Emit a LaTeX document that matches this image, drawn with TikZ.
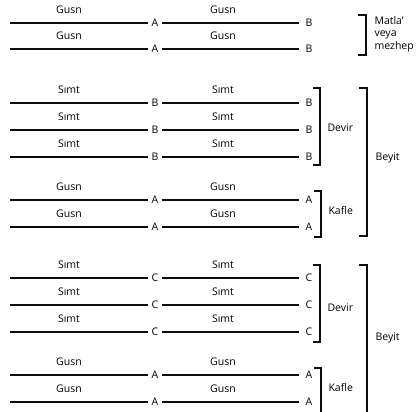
\documentclass[tikz,border=0pt]{standalone}
\usepackage{fontspec}
\setmainfont{Open Sans}
\begin{document}
\begin{tikzpicture}[x=1pt, y=-1pt, font=\fontsize{10.5}{12.5}\selectfont,
    verse/.style={line width=2.3pt, black!95},
    rhyme/.style={inner sep=3pt, text=black},
    part/.style={text=black, font=\fontsize{10.5}{12}\selectfont},
    brace/.style={line width=2.3pt, black!95, line join=miter},
    group/.style={anchor=west, align=left, text=black}]
    \useasboundingbox (0,0) rectangle (416,412);
    \foreach \i/\y/\a/\b/\t in {1/23/A/B/Gusn, 2/49/A/B/Gusn,
        3/103/B/B/Sımt, 4/130/B/B/Sımt, 5/157/B/B/Sımt, 6/200/A/A/Gusn, 7/227/A/A/Gusn,
        8/278/C/C/Sımt, 9/305/C/C/Sımt, 10/332/C/C/Sımt, 11/375/A/A/Gusn, 12/402/A/A/Gusn} {
        \coordinate (s\i) at (10,\y);
        \node (m\i) [rhyme] at (155,\y) {\a};
        \node (e\i) [rhyme] at (309,\y) {\b};
        \node (l\i) [part] at (69,\y-13) {\t};
        \node (r\i) [part] at (223,\y-13) {\t};
        \draw[verse] (s\i) -- (m\i);
        \draw[verse, shorten >=3pt] (m\i) -- (e\i);
    }
    \draw[brace] (358,15) -- (366,15) -- (366,55) -- (358,55);
    \node (matla) [group] at (371,34) {Matla'\\veya\\mezhep};
    \draw[brace] (313,88) -- (320,88) -- (320,165) -- (313,165);
    \node (devir1) [group] at (324,128) {Devir};
    \draw[brace] (314,191) -- (321,191) -- (321,237) -- (314,237);
    \node (kafle1) [group] at (325,211) {Kafle};
    \draw[brace] (359,88) -- (367,88) -- (367,236) -- (359,236);
    \node (beyit1) [group] at (372,158) {Beyit};
    \draw[brace] (313,265) -- (320,265) -- (320,342) -- (313,342);
    \node (devir2) [group] at (324,308) {Devir};
    \draw[brace] (314,368) -- (321,368) -- (321,413);
    \node (kafle2) [group] at (325,388) {Kafle};
    \draw[brace] (359,265) -- (367,265) -- (367,413);
    \node (beyit2) [group] at (372,338) {Beyit};
\end{tikzpicture}
\end{document}
